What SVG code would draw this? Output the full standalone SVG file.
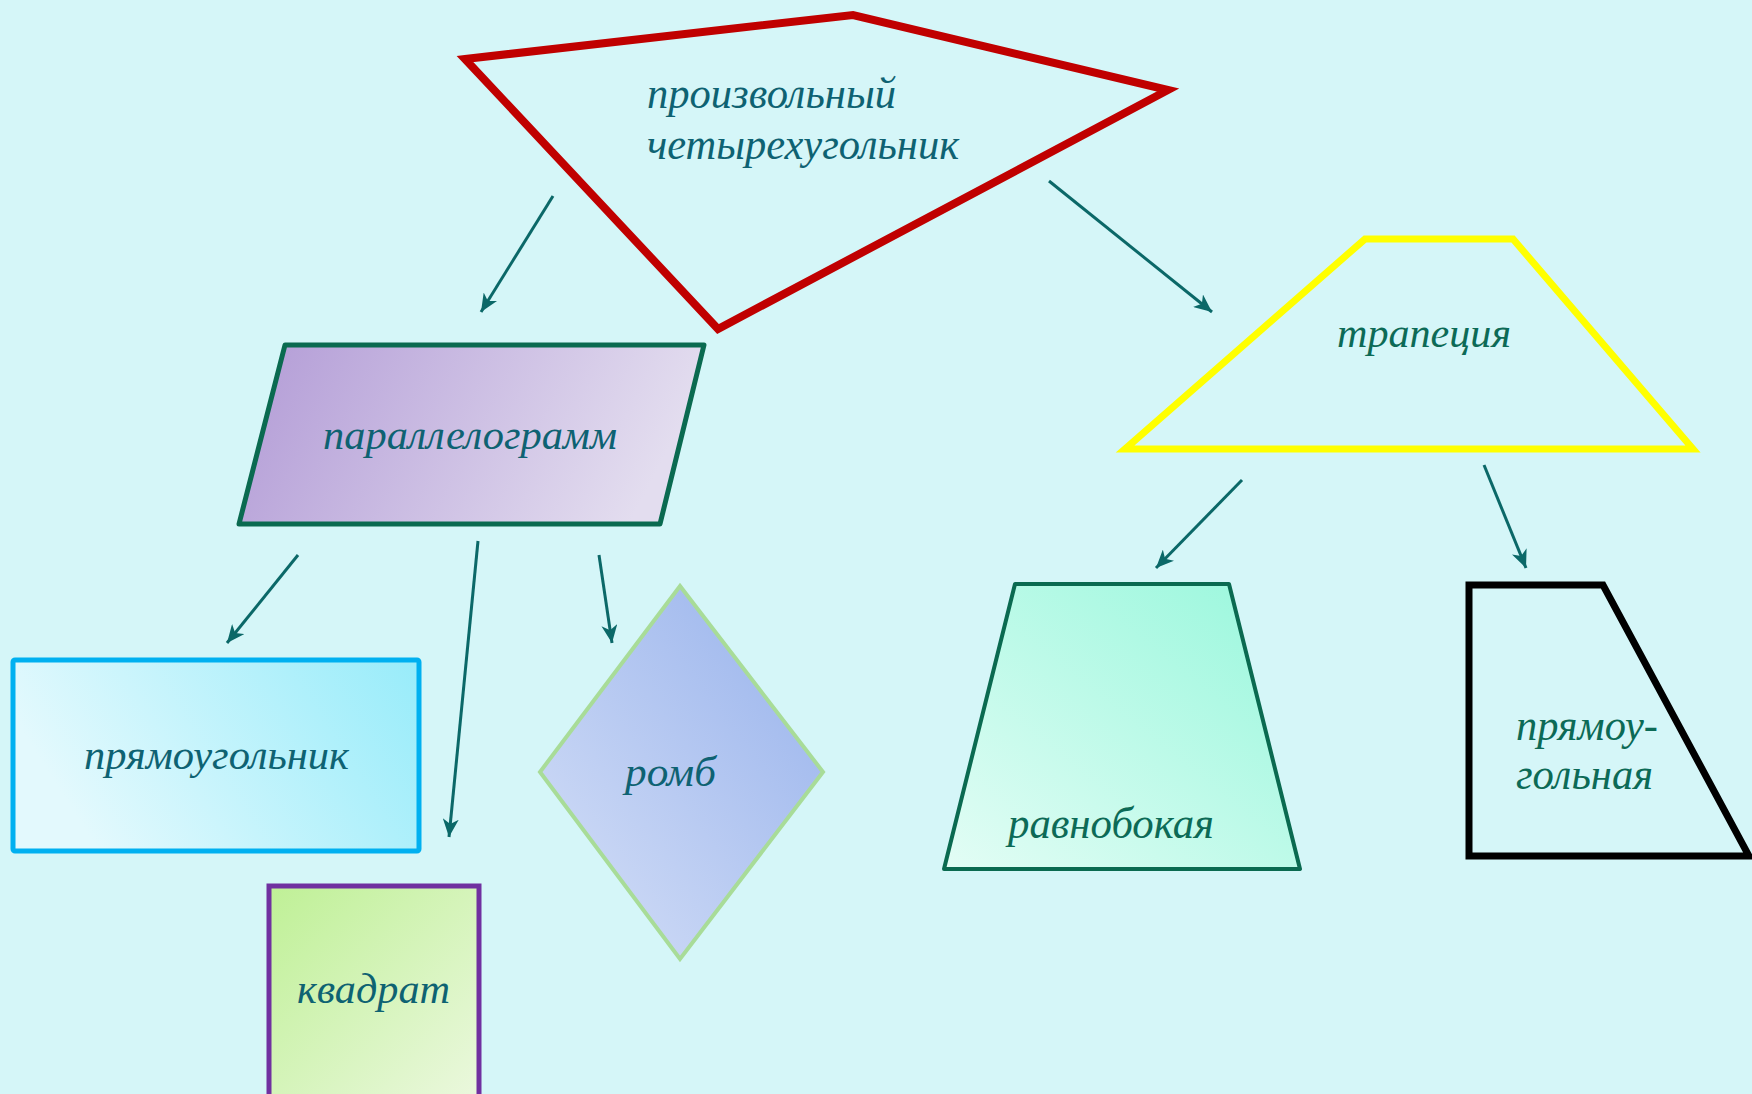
<svg xmlns="http://www.w3.org/2000/svg" width="1752" height="1094" viewBox="0 0 1752 1094">
<style>
.t{font-family:"Liberation Serif","Times New Roman",serif;font-style:italic;font-size:42px}
.big{font-size:45px}
.teal{fill:#0e6272}
.grn{fill:#0c6a56}
.arr{stroke:#0b6868;stroke-width:3;fill:none;marker-end:url(#ah)}
</style>
<defs>
<marker id="ah" markerUnits="userSpaceOnUse" markerWidth="20" markerHeight="16" refX="18" refY="8" orient="auto" viewBox="0 0 20 16">
<path d="M0,0 L18,8 L0,16 L5,8 Z" fill="#0b6868"/>
</marker>
<linearGradient id="gPara" x1="0" y1="0" x2="1" y2="0.2">
<stop offset="0" stop-color="#b29bd6"/><stop offset="1" stop-color="#e3ddef"/>
</linearGradient>
<linearGradient id="gRect" x1="0" y1="0.3" x2="1" y2="0">
<stop offset="0" stop-color="#e3f9fd"/><stop offset="1" stop-color="#98ecfa"/>
</linearGradient>
<linearGradient id="gSq" x1="0" y1="0" x2="1" y2="1">
<stop offset="0" stop-color="#bff096"/><stop offset="1" stop-color="#ebf8de"/>
</linearGradient>
<linearGradient id="gRh" x1="1" y1="0" x2="0" y2="1">
<stop offset="0" stop-color="#97b2ec"/><stop offset="1" stop-color="#d6e0f7"/>
</linearGradient>
<linearGradient id="gIso" x1="0" y1="1" x2="1" y2="0">
<stop offset="0" stop-color="#e3fdf5"/><stop offset="1" stop-color="#98f7dc"/>
</linearGradient>
</defs>
<rect x="0" y="0" width="1752" height="1094" fill="#d5f6f8"/>

<g id="connectors">
<line class="arr" x1="553" y1="196" x2="481" y2="312"/>
<line class="arr" x1="1049" y1="181" x2="1212" y2="312"/>
<line class="arr" x1="298" y1="555" x2="227" y2="643"/>
<line class="arr" x1="478" y1="541" x2="449" y2="837"/>
<line class="arr" x1="599" y1="555" x2="612" y2="643"/>
<line class="arr" x1="1242" y1="480" x2="1156" y2="568"/>
<line class="arr" x1="1484" y1="465" x2="1526" y2="568"/>
</g>

<g id="node-quad">
<polygon points="465,59 853,15 1168,90 718,329" fill="none" stroke="#c00000" stroke-width="8" stroke-linejoin="miter"/>
<text class="t big teal" x="647" y="108" textLength="249" lengthAdjust="spacingAndGlyphs">произвольный</text>
<text class="t big teal" x="647" y="159" textLength="312" lengthAdjust="spacingAndGlyphs">четырехугольник</text>
</g>

<g id="node-parallelogram">
<polygon points="285,345 704,345 660,524 239,524" fill="url(#gPara)" stroke="#0a6a50" stroke-width="5" stroke-linejoin="round"/>
<text class="t teal" x="323" y="449" textLength="294" lengthAdjust="spacingAndGlyphs">параллелограмм</text>
</g>

<g id="node-trapezoid">
<polygon points="1365,239 1513,239 1693,449 1125,449" fill="none" stroke="#ffff00" stroke-width="7"/>
<text class="t grn" x="1337" y="347" textLength="174" lengthAdjust="spacingAndGlyphs">трапеция</text>
</g>

<g id="node-rectangle">
<rect x="13" y="660" width="406" height="191" rx="2" fill="url(#gRect)" stroke="#00b0f0" stroke-width="5"/>
<text class="t teal" x="84" y="769" textLength="265" lengthAdjust="spacingAndGlyphs">прямоугольник</text>
</g>

<g id="node-square">
<rect x="269" y="886" width="210" height="214" fill="url(#gSq)" stroke="#7030a0" stroke-width="5"/>
<text class="t teal" x="297" y="1003" textLength="153" lengthAdjust="spacingAndGlyphs">квадрат</text>
</g>

<g id="node-rhombus">
<polygon points="680,586 823,772 680,959 540,772" fill="url(#gRh)" stroke="#a8dc98" stroke-width="4"/>
<text class="t teal" x="625" y="786" textLength="91" lengthAdjust="spacingAndGlyphs">ромб</text>
</g>

<g id="node-isosceles">
<polygon points="1015,584 1229,584 1300,869 944,869" fill="url(#gIso)" stroke="#0a6a50" stroke-width="4" stroke-linejoin="round"/>
<text class="t big grn" x="1008" y="838" textLength="206" lengthAdjust="spacingAndGlyphs">равнобокая</text>
</g>

<g id="node-right-trapezoid">
<polygon points="1469,585 1603,585 1749,856 1469,856" fill="none" stroke="#000000" stroke-width="7"/>
<text class="t big grn" x="1516" y="740" textLength="142" lengthAdjust="spacingAndGlyphs">прямоу-</text>
<text class="t big grn" x="1516" y="789" textLength="137" lengthAdjust="spacingAndGlyphs">гольная</text>
</g>
</svg>
